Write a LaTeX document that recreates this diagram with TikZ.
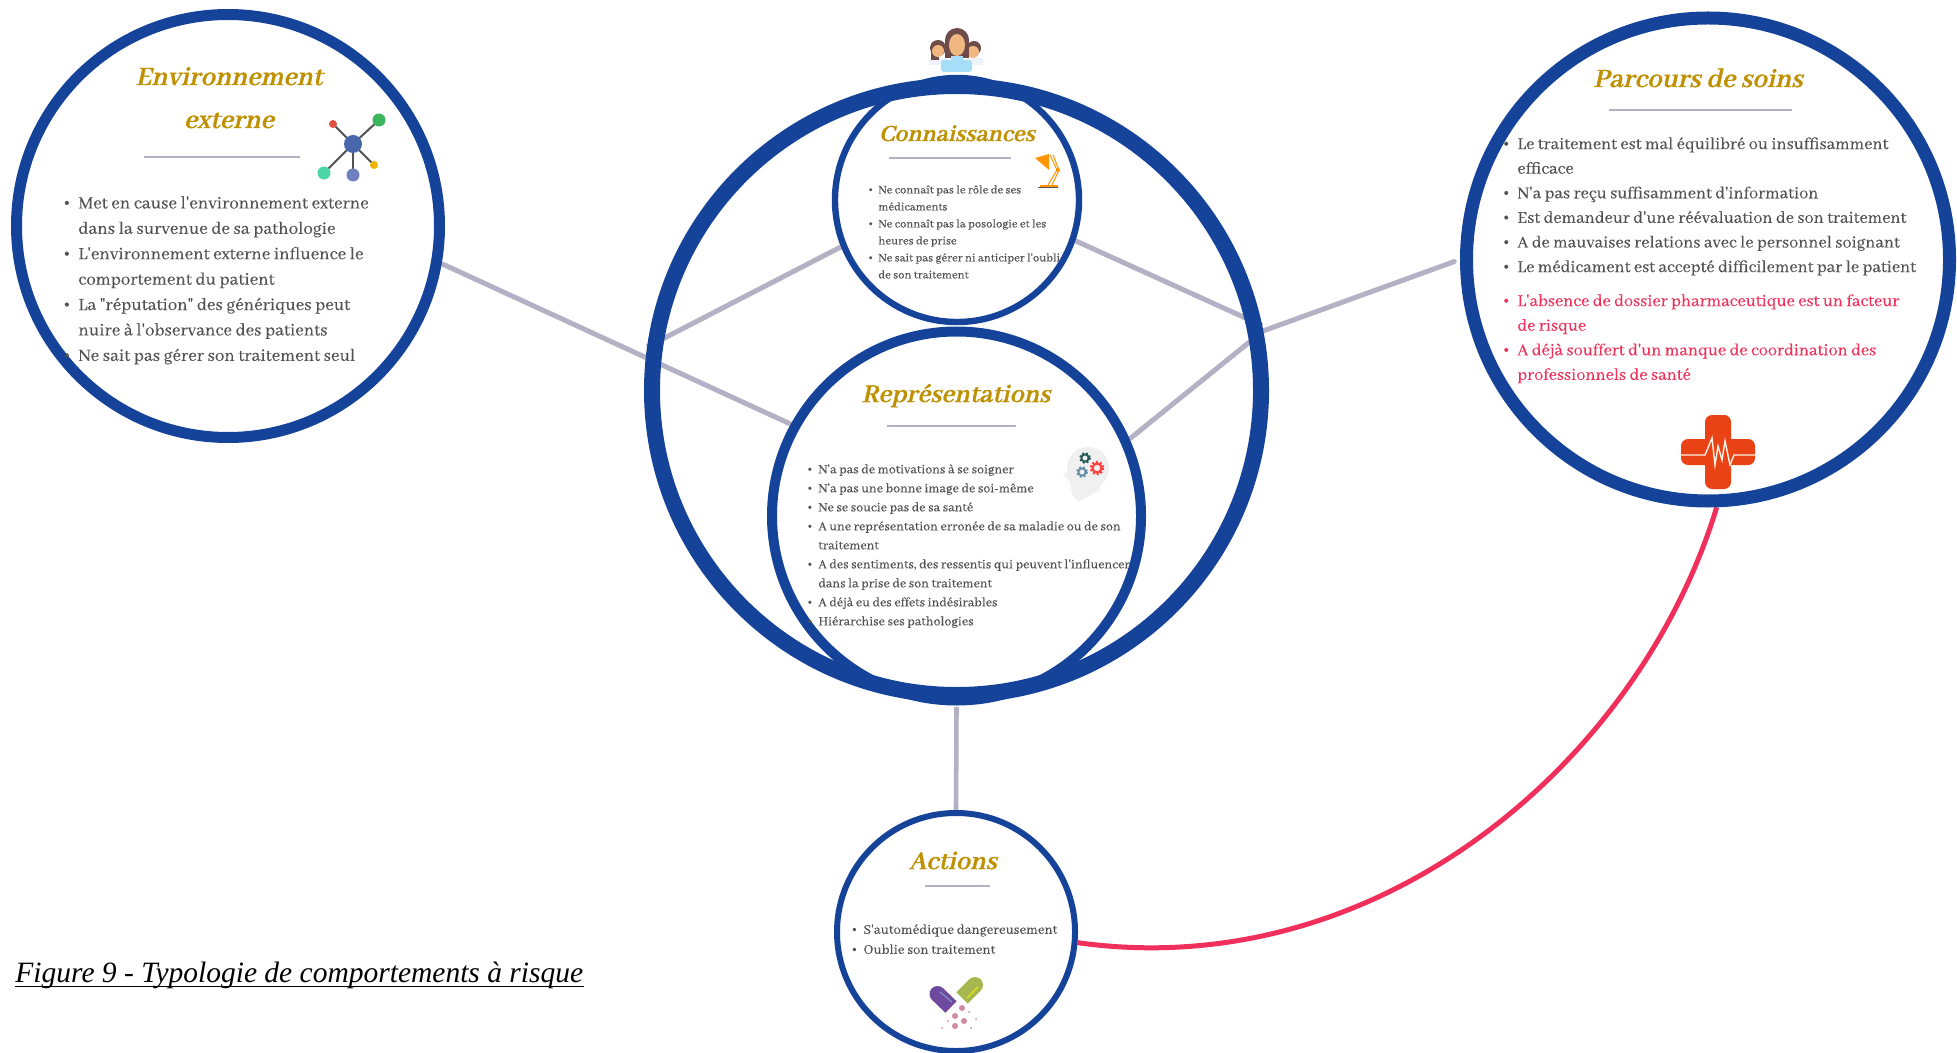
\documentclass[tikz,border=0pt]{standalone}
\usepackage{fontspec}
\usetikzlibrary{positioning,calc,backgrounds}
\setmainfont{Liberation Serif}
\newfontfamily\corpsfont[FakeBold=0.15]{Abhaya Libre}
\newfontfamily\titrefont[FakeSlant=0.22,FakeBold=1.2]{Abhaya Libre}
\definecolor{bleu}{HTML}{16439A}
\definecolor{ocre}{HTML}{BF9000}
\definecolor{lien}{HTML}{B5B1C4}
\definecolor{encre}{HTML}{525252}
\definecolor{rose}{HTML}{F0305A}
\definecolor{croix}{HTML}{E84215}
\definecolor{cheveux}{HTML}{6D4C4A}
\definecolor{peau}{HTML}{F0B880}
\definecolor{chemise}{HTML}{A6DDF8}
\definecolor{blouse}{HTML}{EEF2FA}
\definecolor{lampe}{HTML}{FF9500}
\definecolor{gelule}{HTML}{6E4A9E}
\definecolor{comprime}{HTML}{A6B74F}
\definecolor{poudre}{HTML}{D08AA5}
\newcommand{\puce}{\makebox[0pt][r]{\scalebox{1.3}{\textbullet}\hspace{.38em}}}
\tikzset{
  rond/.style={circle,draw=bleu,fill=white,inner sep=0pt},
  titre/.style={font=\titrefont\bfseries\fontsize{#1}{21.5}\selectfont,text=ocre,align=center,inner sep=0pt,anchor=base},
  liste/.style={text=encre,align=left,inner sep=0pt,anchor=north west},
  filet/.style={draw=lien,line width=#1},
  liaison/.style={draw=lien,line width=2.5pt}
}
\begin{document}
\begin{tikzpicture}[x=0.5pt,y=-0.5pt]
\useasboundingbox (0,0) rectangle (1957,1053);

\node[rond,line width=5.5pt,minimum size=211.5pt] (env) at (228,226) {};
\node[rond,line width=6.5pt,minimum size=241.5pt] (parc) at (1708,259.5) {};
\node[rond,line width=3pt,minimum size=119pt] (act) at (956,932) {};
\node[rond,line width=3.2pt,minimum size=122pt] (conn) at (957,200) {};
\node[rond,line width=5pt,minimum size=184.5pt] (repr) at (956.5,516) {};
\node[circle,draw=bleu,line width=8pt,minimum size=304.5pt,inner sep=0pt] (ring) at (956.5,390.5) {};

\begin{pgfonlayer}{background}
\draw[liaison] (env.-10) -- (repr.151.9);
\draw[liaison] (conn.202.5) -- (ring.172.8);
\draw[liaison] (conn.-19) -- (ring.12.1);
\draw[liaison] (repr.24.5) -- (ring.11.3);
\draw[liaison,line cap=round,shorten <=3pt] (parc.180) -- (ring.11.5);
\draw[liaison,line width=2.3pt,shorten <=2pt] (ring.south) -- (act.north);
\draw[draw=rose,line width=2.5pt] (act.-5) .. controls (1380,985) and (1640,760) .. (parc.-88.8);
\end{pgfonlayer}

\node[titre=14.5] (tenv) at (229,128) {Environnement\\externe};
\draw[filet=1.3pt] (144,157) -- (300,157);
\node[liste,font=\corpsfont\fontsize{9.4}{12.7}\selectfont] (lenv) at (78,196) {\puce Met en cause l'environnement externe\\
dans la survenue de sa pathologie\\
\puce L'environnement externe influence le\\
comportement du patient\\
\puce La "réputation" des génériques peut\\
nuire à l'observance des patients\\
\puce Ne sait pas gérer son traitement seul};

\draw[color=encre,line width=1pt] (353,144) -- (333,124);
\draw[color=encre,line width=1pt] (353,144) -- (379,120);
\draw[color=encre,line width=1pt] (353,144) -- (324,173);
\draw[color=encre,line width=1pt] (353,144) -- (353,175);
\draw[color=encre,line width=1pt] (353,144) -- (374,165);
\fill[color={rgb,255:red,74;green,103;blue,173}] (353,144) circle (9);
\fill[color={rgb,255:red,224;green,80;blue,64}] (333,124) circle (4);
\fill[color={rgb,255:red,60;green,181;blue,94}] (379,120) circle (6.5);
\fill[color={rgb,255:red,79;green,214;blue,168}] (324,173) circle (6.5);
\fill[color={rgb,255:red,111;green,128;blue,192}] (353,175) circle (6.5);
\fill[color={rgb,255:red,240;green,180;blue,0}] (374,165) circle (4);

\node[titre=12.8] (tconn) at (957,141) {Connaissances};
\draw[filet=.7pt] (889,158) -- (1011,158);
\node[liste,font=\corpsfont\fontsize{6.3}{8.5}\selectfont] (lconn) at (878,185) {\puce Ne connaît pas le rôle de ses\\
médicaments\\
\puce Ne connaît pas la posologie et les\\
heures de prise\\
\puce Ne sait pas gérer ni anticiper l'oubli\\
de son traitement};

\fill[lampe] (1035,158) -- (1049,154) -- (1049,170) -- cycle;
\draw[lampe,line width=.5pt] (1050,155) -- (1057,170) -- (1048,185);
\draw[lampe,line width=.5pt] (1053,155) -- (1059,170) -- (1052,185);
\fill[lampe] (1058,170) circle (2);
\fill[lampe] (1040,185) rectangle (1058,187);
\fill[encre] (1038,187) rectangle (1058,188.5);

\node[titre=14] (trepr) at (956,402) {Représentations};
\draw[filet=.7pt] (887,426) -- (1016,426);
\node[liste,font=\corpsfont\fontsize{6.95}{9.5}\selectfont] (lrepr) at (818,464) {\puce N'a pas de motivations à se soigner\\
\puce N'a pas une bonne image de soi-même\\
\puce Ne se soucie pas de sa santé\\
\puce A une représentation erronée de sa maladie ou de son\\
traitement\\
\puce A des sentiments, des ressentis qui peuvent l'influencer\\
dans la prise de son traitement\\
\puce A déjà eu des effets indésirables\\
\puce Hiérarchise ses pathologies};

\fill[gray!12] (1088,468) circle (21);
\fill[gray!12] (1075,470) -- (1063,474) -- (1070,482) -- (1072,494) -- (1078,502) -- (1100,490) -- (1100,470) -- cycle;
\draw[teal!60!gray!70!black,line width=.9pt] (1085,458) circle (3.6);
\draw[teal!60!gray!70!black,line width=1pt,dash pattern=on 1pt off 1pt] (1085,458) circle (5);
\draw[cyan!50!gray!80!black,line width=.9pt] (1082,472) circle (3.6);
\draw[cyan!50!gray!80!black,line width=1pt,dash pattern=on 1pt off 1pt] (1082,472) circle (5);
\draw[red!75!white,line width=1.1pt] (1097,468) circle (4.5);
\draw[red!75!white,line width=1pt,dash pattern=on 1pt off 1pt] (1097,468) circle (6.2);

\node[titre=14.5] (tparc) at (1698,87) {Parcours de soins};
\draw[filet=1.3pt] (1609,110) -- (1792,110);
\node[liste,font=\corpsfont\fontsize{9.1}{12.3}\selectfont] (lparc) at (1517,137) {\puce Le traitement est mal équilibré ou insuffisamment\\
efficace\\
\puce N'a pas reçu suffisamment d'information\\
\puce Est demandeur d'une réévaluation de son traitement\\
\puce A de mauvaises relations avec le personnel soignant\\
\puce Le médicament est accepté difficilement par le patient};
\node[liste,text=rose,font=\corpsfont\fontsize{9.1}{12.3}\selectfont] (lrisque) at (1517,294) {\puce L'absence de dossier pharmaceutique est un facteur\\
de risque\\
\puce A déjà souffert d'un manque de coordination des\\
professionnels de santé};

\fill[croix,rounded corners=3.5pt] (1705,415) rectangle (1731,489);
\fill[croix,rounded corners=3.5pt] (1681,439) rectangle (1755,465);
\draw[white!90!orange,line width=.7pt] (1678,455) -- (1705,455) -- (1712,438) -- (1715,465) -- (1718,446) -- (1722,460) -- (1725,441) -- (1730,465) -- (1734,455) -- (1760,455);

\node[titre=14.1] (tact) at (953,869) {Actions};
\draw[filet=.7pt] (925,886) -- (990,886);
\node[liste,font=\corpsfont\fontsize{7.35}{10}\selectfont] (lact) at (863,924) {\puce S'automédique dangereusement\\
\puce Oublie son traitement};

\fill[gelule] (937.5,994) circle (8);
\draw[gelule,line width=8pt] (937.5,994) -- (951,1007);
\draw[violet!60!cyan!70!white,line width=.6pt] (940,992) -- (952,1002);
\fill[comprime] (975,985) circle (8);
\draw[comprime,line width=8pt] (975,985) -- (962,998);
\draw[yellow!85!green,line width=.6pt] (967,998) -- (978,987);
\fill[poudre] (962,1008) circle (3);
\fill[poudre] (955,1016) circle (3);
\fill[poudre] (964,1021) circle (3);
\fill[poudre] (955,1026) circle (3);
\fill[poudre] (948,1021) circle (1);
\fill[poudre] (942,1028) circle (1);
\fill[poudre] (976,1019) circle (1);
\fill[poudre] (971,1028) circle (1);
\fill[poudre] (969,1012) circle (1);

\fill[blouse] (929,58) rectangle (948,65);
\fill[blouse] (966,58) rectangle (983,65);
\fill[cheveux] (938,48) circle (8);
\fill[cheveux] (931,47) rectangle (939,60);
\fill[cheveux] (974,48) circle (7);
\fill[peau] (938,51) circle (6);
\fill[peau] (973,52) circle (6);
\fill[cheveux] (957,40) circle (12);
\fill[cheveux] (945,40) rectangle (969,58);
\fill[peau] (957,45) ellipse (8 and 11);
\fill[chemise,rounded corners=1.5pt] (941,60) rectangle (972,72);
\fill[chemise] (951,56) rectangle (963,62);

\node[inner sep=0pt,anchor=base west,text depth=2pt,font=\itshape\fontsize{14.75}{16}\selectfont] (legende) at (15,982) {Figure 9 - Typologie de comportements à risque};
\draw[black,line width=.8pt] (legende.south west) -- (legende.south east);
\end{tikzpicture}
\end{document}
